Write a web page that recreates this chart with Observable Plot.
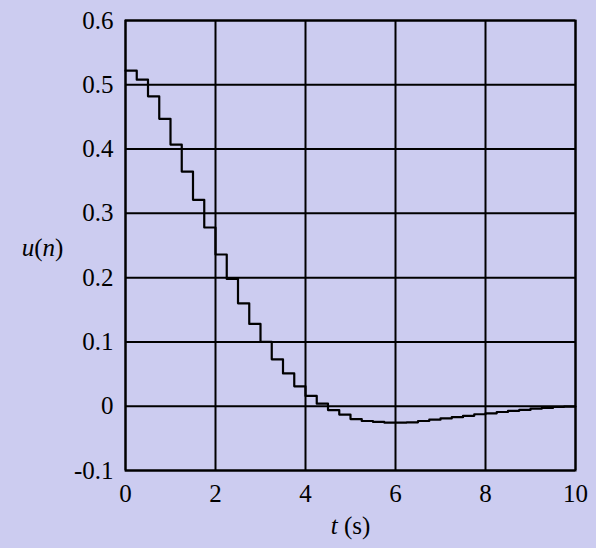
<!DOCTYPE html>
<html>
<head>
<meta charset="utf-8">
<script src="https://cdn.jsdelivr.net/npm/d3@7"></script>
<script src="https://cdn.jsdelivr.net/npm/@observablehq/plot@0.6"></script>
<style>
  html, body { margin: 0; padding: 0; background: #ccccf0; }
</style>
</head>
<body>
<div id="chart"></div>
<script>
const times = [0, 0.25, 0.5, 0.75, 1, 1.25, 1.5, 1.75, 2, 2.25, 2.5, 2.75, 3, 3.25, 3.5, 3.75,
  4, 4.25, 4.5, 4.75, 5, 5.25, 5.5, 5.75, 6, 6.25, 6.5, 6.75, 7, 7.25, 7.5, 7.75,
  8, 8.25, 8.5, 8.75, 9, 9.25, 9.5, 9.75, 10];
const uValues = [0.522, 0.508, 0.482, 0.447, 0.407, 0.365, 0.321, 0.278, 0.236, 0.198, 0.160, 0.128,
  0.100, 0.073, 0.051, 0.031, 0.016, 0.004, -0.006, -0.013, -0.020, -0.023, -0.0245, -0.0255,
  -0.0255, -0.025, -0.023, -0.021, -0.019, -0.017, -0.015, -0.0125, -0.011, -0.009, -0.0072,
  -0.0057, -0.0038, -0.0026, -0.0012, -0.0005, -0.0005];
const xTicks = [0, 2, 4, 6, 8, 10];
const yTicks = [-0.1, 0, 0.1, 0.2, 0.3, 0.4, 0.5, 0.6];
const xLabel = "t (s)";
const yLabel = "u(n)";

const data = times.map((t, i) => ({t, u: uValues[i]}));
const fmt = d => (d === 0 ? "0" : d.toFixed(1));

const chart = Plot.plot({
  width: 596,
  height: 548,
  marginLeft: 125,
  marginRight: 21,
  marginTop: 20,
  marginBottom: 78,
  style: {background: "#ccccf0", fontFamily: "'Liberation Serif', serif", fontSize: "25px", color: "black"},
  x: {domain: [0, 10]},
  y: {domain: [-0.1, 0.6]},
  marks: [
    Plot.gridX(xTicks, {stroke: "black", strokeOpacity: 1, strokeWidth: 2}),
    Plot.gridY(yTicks, {stroke: "black", strokeOpacity: 1, strokeWidth: 2}),
    Plot.frame({stroke: "black", strokeWidth: 2}),
    Plot.line(data, {x: "t", y: "u", curve: "step-after", stroke: "black", strokeWidth: 2.2}),
    Plot.axisX(xTicks, {tickSize: 0, tickPadding: 14, label: null, fontSize: 25, tickFormat: d => String(d)}),
    Plot.axisY(yTicks, {tickSize: 0, tickPadding: 12, label: null, fontSize: 25, tickFormat: fmt}),
    Plot.text([xLabel], {frameAnchor: "bottom", dy: 63, fontSize: 25, fill: "black", textAnchor: "middle"}),
    Plot.text([yLabel], {frameAnchor: "left", dx: -83, dy: 2, fontSize: 25, fill: "black", textAnchor: "middle"})
  ]
});
document.getElementById("chart").appendChild(chart);

for (const el of chart.querySelectorAll("text")) {
  if (el.textContent === xLabel) {
    el.innerHTML = '<tspan font-style="italic">t</tspan> (s)';
  } else if (el.textContent === yLabel) {
    el.innerHTML = '<tspan font-style="italic">u</tspan>(<tspan font-style="italic">n</tspan>)';
  }
}
</script>
</body>
</html>
